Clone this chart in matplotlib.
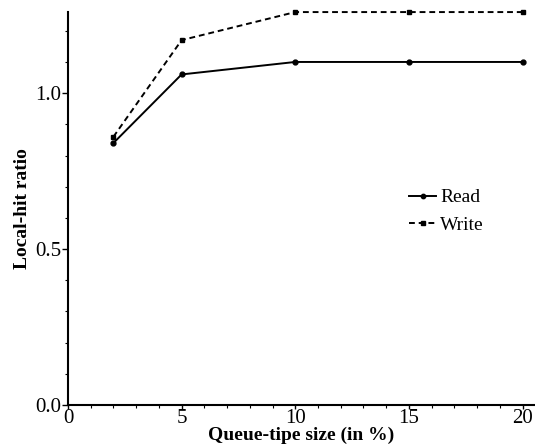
import numpy as np
import matplotlib
matplotlib.use('Agg')
import matplotlib.pyplot as plt
from matplotlib.ticker import MultipleLocator

plt.rcParams['font.family'] = ['Liberation Serif', 'DejaVu Serif']

# 队列尖端大小 (%) 与本地命中率
tip_size = [2, 5, 10, 15, 20]
read_ratio = [0.84, 1.06, 1.10, 1.10, 1.10]
write_ratio = [0.86, 1.17, 1.26, 1.26, 1.26]

fig = plt.figure(figsize=(5.35, 4.47), dpi=100)
ax = fig.add_axes([0.127, 0.094, 0.871, 0.879])

ax.plot(tip_size, read_ratio, color='black', linestyle='-', linewidth=1.4,
        marker='o', markersize=3.5, label='Read', clip_on=False)
ax.plot(tip_size, write_ratio, color='black', linestyle=(0, (3, 2)), linewidth=1.4,
        marker='s', markersize=3.5, label='Write', clip_on=False)

ax.set_xlim(0, 20.5)
ax.set_ylim(0, 1.26)
ax.set_xticks([0, 5, 10, 15, 20])
ax.set_yticks([0.0, 0.5, 1.0])
ax.set_yticklabels(['0.0', '0.5', '1.0'])
ax.xaxis.set_minor_locator(MultipleLocator(1))
ax.yaxis.set_minor_locator(MultipleLocator(0.1))

for side in ['top', 'right']:
    ax.spines[side].set_visible(False)
for side in ['left', 'bottom']:
    ax.spines[side].set_linewidth(1.5)

ax.tick_params(which='major', direction='out', length=4, width=1, labelsize=15, pad=1)
ax.tick_params(axis='x', which='major', length=3, pad=0)
ax.tick_params(which='minor', direction='out', length=2, width=0.8)

ax.set_xlabel('Queue-tipe size (in %)', fontsize=14, fontweight='bold', labelpad=-1)
ax.set_ylabel('Local-hit ratio', fontsize=14, fontweight='bold', labelpad=3)

ax.legend(loc='upper left', bbox_to_anchor=(0.732, 0.55), frameon=False,
          fontsize=14, handlelength=1.4, handletextpad=0.2, labelspacing=0.5,
          borderpad=0, borderaxespad=0, markerscale=0.9)

plt.savefig('out.png', dpi=100)
